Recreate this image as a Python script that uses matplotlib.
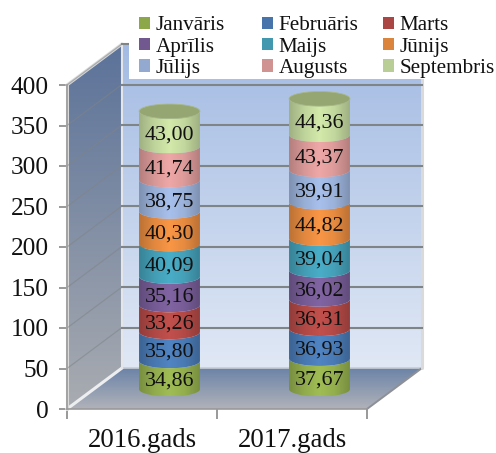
import numpy as np
import matplotlib
matplotlib.use("Agg")
import matplotlib.pyplot as plt
from matplotlib.colors import to_rgb, LinearSegmentedColormap
from matplotlib.patches import Polygon, Rectangle, Patch

plt.rcParams['font.family'] = ['Liberation Serif', 'DejaVu Serif']

categories = ["2016.gads", "2017.gads"]
months = ["Janvāris", "Februāris", "Marts", "Aprīlis", "Maijs", "Jūnijs",
          "Jūlijs", "Augusts", "Septembris"]
values_2016 = [34.86, 35.80, 33.26, 35.16, 40.09, 40.30, 38.75, 41.74, 43.00]
values_2017 = [37.67, 36.93, 36.31, 36.02, 39.04, 44.82, 39.91, 43.37, 44.36]
colors = ["#8CA64A", "#4674AB", "#AA4643", "#71588F", "#4198AF", "#DB843D",
          "#93A9CF", "#D19392", "#B9CD96"]
y_ticks = [0, 50, 100, 150, 200, 250, 300, 350, 400]

W, H = 496, 453
fig = plt.figure(figsize=(W / 100, H / 100), dpi=100)
ax = fig.add_axes([67 / W, 1 - 409 / H, 300 / W, 324 / H])
ax.set_xlim(0, 2)
ax.set_ylim(0, 400)
ax.patch.set_alpha(0)

DX, DY = 55 / 150, 50.6          # depth of the 3D box, data units
BX, BY = 27.5 / 150, 24.5         # depth of the cylinders
HW, RY = 0.203, 9.0


def gradient(poly_xy, extent, cmap_colors, z, vertical=True):
    cmap = LinearSegmentedColormap.from_list("g", cmap_colors)
    n = 128
    g = np.linspace(1, 0, n).reshape(-1, 1) if vertical else np.linspace(0, 1, n).reshape(1, -1)
    im = ax.imshow(g, extent=extent, aspect='auto', cmap=cmap, zorder=z,
                   origin='upper', interpolation='bilinear')
    p = Polygon(poly_xy, closed=True, transform=ax.transData, fc='none', ec='none')
    ax.add_patch(p)
    p.set_clip_on(False)
    im.set_clip_path(p)
    im.set_clip_box(fig.bbox)


# back wall
gradient([(DX, DY), (2 + DX, DY), (2 + DX, 400 + DY), (DX, 400 + DY)],
         (DX, 2 + DX, DY, 400 + DY), ["#E0E8F5", "#A3BBE3"], 1)
# left wall
gradient([(0, 0), (DX, DY), (DX, 400 + DY), (0, 400)],
         (0, DX, 0, 400 + DY), ["#A9ACB1", "#5B7299"], 1)
# floor
gradient([(0, 0), (2, 0), (2 + DX, DY), (DX, DY)],
         (0, 2 + DX, 0, DY), ["#B0B2B9", "#6C84A8"], 1)

edge = "#DADADA"
kw = dict(color=edge, lw=2.2, zorder=2, clip_on=False, solid_capstyle='round')
ax.plot([0, DX], [0, DY], color="#EDEEF0", lw=2.2, zorder=2, clip_on=False)
ax.plot([DX, 2 + DX], [DY, DY], color="#C8CCD4", lw=1.2, zorder=2, clip_on=False)
ax.plot([2 + DX, 2], [DY, 0], color="#8D9096", lw=1.4, zorder=2, clip_on=False)
ax.plot([0, 0], [0, 400], **kw)
ax.plot([0, DX], [400, 400 + DY], **kw)
ax.plot([DX, DX], [DY, 400 + DY], color="#E4E6EA", lw=1.5, zorder=2, clip_on=False)
ax.plot([2 + DX, 2 + DX], [DY, 400 + DY], **kw)

# gridlines on the back wall and left wall
for v in y_ticks[1:]:
    ax.plot([DX, 2 + DX], [v + DY, v + DY], color="#7F8487", lw=1.5, zorder=3, clip_on=False)
    ax.plot([0, DX], [v, v + DY], color="#7F8487", lw=0.9, alpha=0.55, zorder=3, clip_on=False)


def cylinder(xc, vals):
    xc = xc + BX
    t = np.linspace(np.pi, 2 * np.pi, 60)
    ex, ey = HW * np.cos(t), RY * np.sin(t)
    bottom = 0.0
    for i, v in enumerate(vals):
        top = bottom + v
        xy = np.r_[np.c_[xc + ex, BY + bottom + ey],
                   np.c_[xc + ex[::-1], BY + top + ey[::-1]]]
        rgb = np.array(to_rgb(colors[i]))
        prof = [rgb * 0.86, rgb * 1.03, np.minimum(rgb * 1.14, 1), rgb * 1.05, rgb * 0.86]
        gradient(xy, (xc - HW, xc + HW, BY + bottom - RY, BY + top + RY),
                 [tuple(np.clip(c, 0, 1)) for c in prof], 5 + i * 0.01, vertical=False)
        ax.text(xc, BY + bottom + v / 2 - 7.5, f"{v:.2f}".replace(".", ","),
                ha='center', va='center', fontsize=15.8, color="#111111", zorder=8,
                clip_on=False)
        bottom = top
    t2 = np.linspace(0, 2 * np.pi, 90)
    ax.add_patch(Polygon(np.c_[xc + HW * np.cos(t2), BY + bottom + RY * np.sin(t2)],
                         closed=True, fc="#95A673", ec="#A8B985", lw=0.6, zorder=6,
                         clip_on=False))


cylinder(0.5, values_2016)
cylinder(1.5, values_2017)

# axes
for s in ('top', 'right'):
    ax.spines[s].set_visible(False)
for s in ('left', 'bottom'):
    ax.spines[s].set_color("#9A9A9A")
    ax.spines[s].set_linewidth(1.2)
    ax.spines[s].set_zorder(4)
ax.set_yticks(y_ticks)
ax.set_yticklabels([str(v) for v in y_ticks], fontsize=18.2, color="#111111")
ax.tick_params(axis='y', length=6, color="#888888", width=1.2, pad=7)
ax.set_xticks([0, 1, 2])
ax.set_xticklabels([])
ax.tick_params(axis='x', which='major', length=7, color="#888888", width=1.2)
ax.set_xticks([0.5, 1.5], minor=True)
ax.set_xticklabels(categories, minor=True, fontsize=19.3, color="#111111")
ax.tick_params(axis='x', which='minor', length=0, pad=13.5)

# legend background and legends (columns)
ax.add_patch(Rectangle((129 / W, 1 - 79 / H), 1, 79 / H, transform=fig.transFigure,
                       fc='white', ec='none', zorder=20, clip_on=False))
handles = [Patch(fc=c, ec='none') for c in colors]
col_x = [133, 256, 377]
for j, x0 in enumerate(col_x):
    idx = [j, j + 3, j + 6]
    leg = ax.legend([handles[i] for i in idx], [months[i] for i in idx],
                    loc='upper left', bbox_to_anchor=(x0 / W, 1 - 10 / H),
                    bbox_transform=fig.transFigure, frameon=False, fontsize=15.2,
                    handlelength=0.52, handleheight=0.52, handletextpad=0.26,
                    labelspacing=0.11, borderpad=0.3, borderaxespad=0)
    leg.set_zorder(21)
    for t in leg.get_texts():
        t.set_color("#111111")
    ax.add_artist(leg)
ax.legend_ = None

fig.savefig("out.png", dpi=100)
